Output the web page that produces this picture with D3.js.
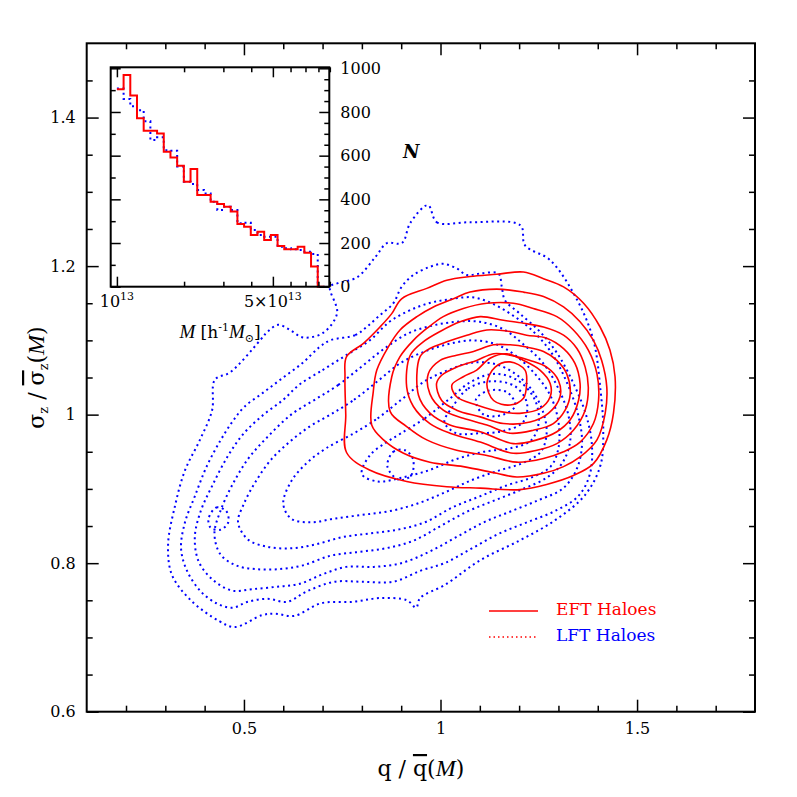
<!DOCTYPE html>
<html>
<head>
<meta charset="utf-8">
<script src="https://cdn.jsdelivr.net/npm/d3@7/dist/d3.min.js"></script>
<style>
  body { margin: 0; background: #fff; }
  text { font-family: "DejaVu Serif", serif; }
</style>
</head>
<body>
<div class="chart"></div>
<script>
// ---- main panel ticks
var xMajorTicks = [0.5, 1, 1.5];
var xMinorTicks = [0.2, 0.3, 0.4, 0.6, 0.7, 0.8, 0.9, 1.1, 1.2, 1.3, 1.4, 1.6, 1.7];
var yMajorTicks = [0.6, 0.8, 1, 1.2, 1.4];
var yMinorTicks = [0.65, 0.7, 0.75, 0.85, 0.9, 0.95, 1.05, 1.1, 1.15, 1.25, 1.3, 1.35, 1.45];

// ---- EFT haloes contours (q/qbar, sigma/sigmabar), outer to inner
var eftContours = [
  [[0.761,1.078],[0.757,1.051],[0.759,1.000],[0.761,0.949],[0.821,0.925],[0.914,0.910],[1.016,0.903],[1.101,0.901],[1.202,0.899],[1.270,0.906],[1.338,0.918],[1.389,0.934],[1.423,0.966],[1.440,1.002],[1.444,1.051],[1.431,1.087],[1.406,1.118],[1.364,1.150],[1.313,1.172],[1.262,1.183],[1.211,1.192],[1.143,1.189],[1.075,1.186],[1.016,1.181],[0.965,1.170],[0.901,1.156],[0.876,1.136],[0.846,1.118],[0.804,1.096]],
  [[0.825,0.986],[0.855,0.966],[0.906,0.948],[0.973,0.936],[1.058,0.930],[1.143,0.921],[1.194,0.916],[1.262,0.921],[1.313,0.930],[1.355,0.943],[1.398,0.966],[1.419,1.002],[1.423,1.037],[1.410,1.073],[1.389,1.100],[1.355,1.125],[1.313,1.145],[1.262,1.159],[1.211,1.165],[1.143,1.169],[1.075,1.165],[1.033,1.156],[0.982,1.145],[0.940,1.132],[0.897,1.114],[0.867,1.091],[0.838,1.060],[0.829,1.031]],
  [[0.872,1.004],[0.914,0.984],[0.965,0.966],[1.041,0.952],[1.118,0.945],[1.194,0.936],[1.262,0.941],[1.313,0.950],[1.355,0.963],[1.389,0.988],[1.402,1.019],[1.398,1.055],[1.376,1.087],[1.338,1.114],[1.296,1.132],[1.236,1.143],[1.185,1.150],[1.118,1.150],[1.058,1.143],[1.007,1.132],[0.965,1.116],[0.931,1.100],[0.897,1.078],[0.876,1.051]],
  [[0.914,1.037],[0.931,1.011],[0.973,0.988],[1.024,0.975],[1.101,0.963],[1.185,0.948],[1.245,0.952],[1.296,0.961],[1.338,0.979],[1.368,1.006],[1.376,1.037],[1.368,1.064],[1.347,1.089],[1.313,1.107],[1.262,1.118],[1.211,1.123],[1.160,1.127],[1.101,1.132],[1.050,1.125],[0.999,1.112],[0.956,1.098],[0.923,1.080]],
  [[0.944,1.026],[0.973,1.002],[1.024,0.986],[1.101,0.977],[1.185,0.961],[1.245,0.966],[1.296,0.977],[1.330,0.993],[1.351,1.019],[1.355,1.042],[1.342,1.069],[1.313,1.089],[1.270,1.103],[1.219,1.107],[1.177,1.112],[1.118,1.114],[1.067,1.107],[1.016,1.098],[0.973,1.089],[0.948,1.078]],
  [[0.969,1.055],[0.973,1.028],[1.007,1.006],[1.058,0.995],[1.118,0.986],[1.177,0.975],[1.236,0.979],[1.287,0.988],[1.317,1.006],[1.330,1.028],[1.321,1.055],[1.296,1.073],[1.262,1.085],[1.219,1.091],[1.177,1.094],[1.135,1.094],[1.084,1.085],[1.041,1.080],[0.999,1.073]],
  [[0.990,1.042],[1.003,1.019],[1.041,1.006],[1.101,0.997],[1.160,0.988],[1.228,0.990],[1.275,1.002],[1.304,1.024],[1.300,1.046],[1.270,1.064],[1.228,1.073],[1.177,1.080],[1.135,1.082],[1.092,1.073],[1.041,1.064],[1.003,1.053]],
  [[1.029,1.040],[1.041,1.024],[1.092,1.013],[1.152,1.004],[1.207,1.002],[1.253,1.008],[1.279,1.024],[1.279,1.042],[1.253,1.060],[1.211,1.073],[1.169,1.082],[1.126,1.076],[1.092,1.060],[1.058,1.051]],
  [[1.118,1.042],[1.135,1.019],[1.177,1.013],[1.211,1.022],[1.219,1.042],[1.215,1.060],[1.177,1.071],[1.139,1.064]]
];

// ---- LFT haloes contours
var lftContours = [
  [[0.968,1.282],[0.991,1.259],[1.075,1.259],[1.203,1.255],[1.215,1.228],[1.279,1.208],[1.348,1.154],[1.389,1.100],[1.407,1.033],[1.414,0.979],[1.407,0.932],[1.368,0.892],[1.292,0.858],[1.203,0.831],[1.101,0.804],[1.012,0.771],[0.948,0.753],[0.938,0.740],[0.915,0.750],[0.846,0.753],[0.778,0.748],[0.696,0.746],[0.628,0.729],[0.579,0.732],[0.546,0.730],[0.477,0.714],[0.437,0.722],[0.365,0.750],[0.317,0.784],[0.307,0.825],[0.325,0.878],[0.350,0.925],[0.388,0.966],[0.419,1.006],[0.426,1.047],[0.465,1.057],[0.541,1.100],[0.559,1.111],[0.587,1.121],[0.617,1.114],[0.650,1.104],[0.701,1.110],[0.737,1.137],[0.719,1.172],[0.739,1.177],[0.788,1.185],[0.834,1.212],[0.864,1.231],[0.902,1.231],[0.923,1.258]],
  [[0.719,1.100],[0.783,1.107],[0.812,1.118],[0.846,1.134],[0.880,1.150],[0.901,1.172],[0.931,1.188],[0.973,1.199],[1.007,1.203],[1.041,1.197],[1.067,1.188],[1.101,1.190],[1.147,1.190],[1.156,1.172],[1.164,1.154],[1.202,1.136],[1.256,1.110],[1.300,1.080],[1.340,1.040],[1.370,1.000],[1.385,0.960],[1.380,0.920],[1.350,0.890],[1.290,0.870],[1.220,0.855],[1.150,0.840],[1.080,0.820],[1.010,0.800],[0.950,0.790],[0.880,0.775],[0.800,0.775],[0.730,0.775],[0.660,0.762],[0.610,0.748],[0.560,0.752],[0.510,0.748],[0.470,0.740],[0.430,0.746],[0.390,0.762],[0.355,0.790],[0.340,0.820],[0.350,0.855],[0.375,0.890],[0.405,0.930],[0.440,0.965],[0.470,0.990],[0.500,1.010],[0.550,1.030],[0.600,1.050],[0.650,1.070],[0.690,1.090]],
  [[0.640,1.040],[0.700,1.060],[0.760,1.080],[0.820,1.100],[0.870,1.125],[0.920,1.140],[0.970,1.150],[1.020,1.155],[1.080,1.158],[1.130,1.150],[1.180,1.135],[1.230,1.115],[1.280,1.085],[1.320,1.045],[1.350,1.000],[1.360,0.960],[1.345,0.925],[1.310,0.900],[1.250,0.885],[1.180,0.870],[1.110,0.855],[1.040,0.835],[0.970,0.815],[0.900,0.800],[0.830,0.795],[0.760,0.795],[0.700,0.785],[0.640,0.772],[0.580,0.768],[0.520,0.765],[0.470,0.763],[0.420,0.778],[0.385,0.802],[0.375,0.835],[0.390,0.870],[0.420,0.905],[0.460,0.945],[0.500,0.975],[0.550,1.000],[0.600,1.020]],
  [[0.680,1.020],[0.740,1.040],[0.800,1.065],[0.860,1.090],[0.920,1.110],[0.980,1.120],[1.040,1.125],[1.100,1.125],[1.160,1.115],[1.210,1.095],[1.260,1.070],[1.300,1.035],[1.325,1.000],[1.330,0.965],[1.310,0.935],[1.270,0.915],[1.210,0.900],[1.140,0.885],[1.070,0.870],[1.000,0.850],[0.930,0.830],[0.860,0.820],[0.790,0.815],[0.720,0.810],[0.650,0.797],[0.590,0.792],[0.530,0.792],[0.480,0.797],[0.440,0.812],[0.425,0.840],[0.440,0.870],[0.470,0.905],[0.510,0.940],[0.560,0.970],[0.620,1.000]],
  [[0.720,1.000],[0.780,1.020],[0.840,1.045],[0.900,1.070],[0.960,1.085],[1.020,1.095],[1.080,1.100],[1.140,1.095],[1.190,1.080],[1.240,1.055],[1.280,1.025],[1.300,0.990],[1.300,0.955],[1.280,0.930],[1.230,0.915],[1.170,0.905],[1.100,0.890],[1.030,0.875],[0.960,0.855],[0.890,0.845],[0.820,0.840],[0.750,0.835],[0.680,0.825],[0.620,0.820],[0.560,0.822],[0.510,0.832],[0.485,0.855],[0.500,0.880],[0.530,0.910],[0.570,0.940],[0.620,0.965],[0.670,0.985]],
  [[0.780,0.975],[0.840,0.995],[0.900,1.020],[0.960,1.045],[1.020,1.060],[1.080,1.070],[1.140,1.068],[1.190,1.055],[1.230,1.035],[1.260,1.005],[1.270,0.975],[1.255,0.950],[1.210,0.935],[1.150,0.925],[1.080,0.912],[1.010,0.895],[0.940,0.880],[0.870,0.870],[0.800,0.865],[0.730,0.860],[0.670,0.855],[0.620,0.860],[0.600,0.880],[0.620,0.910],[0.660,0.935],[0.710,0.955]],
  [[0.900,0.975],[0.960,0.995],[1.020,1.020],[1.080,1.045],[1.140,1.055],[1.200,1.045],[1.240,1.020],[1.250,0.990],[1.230,0.965],[1.180,0.955],[1.110,0.950],[1.040,0.940],[0.970,0.925],[0.900,0.915],[0.840,0.910],[0.800,0.920],[0.820,0.945],[0.860,0.962]],
  [[1.030,1.010],[1.070,1.035],[1.130,1.045],[1.190,1.038],[1.220,1.015],[1.210,0.990],[1.160,0.978],[1.100,0.975],[1.040,0.975],[1.010,0.990]],
  [[1.090,1.020],[1.120,1.032],[1.170,1.030],[1.190,1.012],[1.160,1.000],[1.110,1.000]],
  [[0.865,0.930],[0.880,0.950],[0.910,0.952],[0.930,0.940],[0.925,0.918],[0.895,0.912]],
  [[0.410,0.860],[0.430,0.875],[0.455,0.870],[0.460,0.855],[0.440,0.845],[0.415,0.848]]
];

// ---- inset: mass function histograms (log10 M bin edges, counts)
var massBinEdges = [13.00,13.03,13.06,13.09,13.12,13.15,13.18,13.21,13.24,13.27,13.30,13.33,13.36,13.39,13.42,13.45,13.48,13.51,13.54,13.57,13.60,13.63,13.66,13.69,13.72,13.75,13.78,13.81,13.84,13.87,13.90,13.93];
var eftCounts = [904,969,875,771,714,714,702,618,592,554,481,539,420,420,389,379,366,344,287,275,237,252,214,237,186,171,171,183,156,92,0];
var lftCounts = [908,860,826,808,757,672,684,625,623,550,481,470,443,427,389,351,366,351,290,293,260,237,229,229,183,176,171,168,160,150,0];
var insetMassTicks = [1e13,2e13,3e13,4e13,5e13,6e13,7e13,8e13,9e13];
var insetMassMajor = [1e13, 5e13];
var insetCountMajor = [0,200,400,600,800,1000];
var insetCountLeftMinor = [100,300,500,700,900];
var insetCountRightMinor = [50,100,150,250,300,350,450,500,550,650,700,750,850,900,950];

// ------------------------------------------------------------------
var W = 797, H = 797;
var margin = {top: 43.3, right: 42, bottom: 85.3, left: 86.7},
    width = W - margin.left - margin.right,
    height = H - margin.top - margin.bottom;

var svg = d3.select(".chart").append("svg")
    .attr("width", W)
    .attr("height", H);

var g = svg.append("g")
    .attr("transform", "translate(" + margin.left + "," + margin.top + ")");

var x = d3.scaleLinear().domain([0.1, 1.8]).range([0, width]);
var y = d3.scaleLinear().domain([0.6, 1.5]).range([height, 0]);

// axes with inward ticks on all four sides
function addAxis(axisFn, scale, vals, size, labels, tr) {
    var a = axisFn(scale).tickValues(vals).tickSize(-size).tickPadding(11);
    if (labels) a.tickFormat(d3.format("")); else a.tickFormat("");
    var ax = g.append("g").attr("transform", tr).call(a);
    ax.select(".domain").remove();
    ax.selectAll("line").attr("stroke", "#000").attr("stroke-width", 1.5);
    ax.selectAll("text").style("font-size", "16px").attr("fill", "#000");
    return ax;
}
addAxis(d3.axisBottom, x, xMajorTicks, 12, true, "translate(0," + height + ")");
addAxis(d3.axisBottom, x, xMinorTicks, 6, false, "translate(0," + height + ")");
addAxis(d3.axisTop, x, xMajorTicks, 12, false, "translate(0,0)");
addAxis(d3.axisTop, x, xMinorTicks, 6, false, "translate(0,0)");
addAxis(d3.axisLeft, y, yMajorTicks, 12, true, "translate(0,0)");
addAxis(d3.axisLeft, y, yMinorTicks, 6, false, "translate(0,0)");
addAxis(d3.axisRight, y, yMajorTicks, 12, false, "translate(" + width + ",0)");
addAxis(d3.axisRight, y, yMinorTicks, 6, false, "translate(" + width + ",0)");

// contours
var contourLine = d3.line()
    .x(function (d) { return x(d[0]); })
    .y(function (d) { return y(d[1]); })
    .curve(d3.curveCatmullRomClosed.alpha(0.5));

g.selectAll(".lft")
    .data(lftContours)
    .enter().append("path")
    .attr("class", "lft")
    .attr("d", contourLine)
    .attr("fill", "none")
    .attr("stroke", "#0000ff")
    .attr("stroke-width", 2)
    .attr("stroke-dasharray", "2,3.5");

g.selectAll(".eft")
    .data(eftContours)
    .enter().append("path")
    .attr("class", "eft")
    .attr("d", contourLine)
    .attr("fill", "none")
    .attr("stroke", "#ff0000")
    .attr("stroke-width", 1.6)
    .attr("stroke-linejoin", "round");

// frame
g.append("rect")
    .attr("width", width)
    .attr("height", height)
    .attr("fill", "none")
    .attr("stroke", "#000")
    .attr("stroke-width", 2);

// legend
var legend = g.append("g").attr("transform", "translate(" + (489 - margin.left) + "," + (611 - margin.top) + ")");
legend.append("line").attr("x1", 0).attr("x2", 49).attr("y1", 0).attr("y2", 0)
    .attr("stroke", "#ff0000").attr("stroke-width", 1.5);
legend.append("line").attr("x1", 0).attr("x2", 49).attr("y1", 26).attr("y2", 26)
    .attr("stroke", "#ff0000").attr("stroke-width", 1.5).attr("stroke-dasharray", "1.5,3");
legend.append("text").attr("x", 67).attr("y", 4).text("EFT Haloes")
    .attr("fill", "#ff0000").style("font-size", "17px");
legend.append("text").attr("x", 67).attr("y", 30).text("LFT Haloes")
    .attr("fill", "#0000ff").style("font-size", "17px");

// axis titles
var xt = svg.append("text")
    .attr("x", margin.left + width / 2)
    .attr("y", 776)
    .attr("text-anchor", "middle")
    .style("font-size", "22px");
xt.append("tspan").text("q  /  ");
xt.append("tspan").text("q").style("text-decoration", "overline");
xt.append("tspan").text("(");
xt.append("tspan").text("M").style("font-style", "italic").style("font-family", "'Liberation Serif', serif").style("font-size", "24px");
xt.append("tspan").text(")");

var yt = svg.append("text")
    .attr("transform", "translate(44," + (margin.top + height / 2) + ") rotate(-90)")
    .attr("text-anchor", "middle")
    .style("font-size", "22px");
yt.append("tspan").text("σ");
yt.append("tspan").text("z").attr("dy", 4).style("font-size", "13px");
yt.append("tspan").text("  /  ").attr("dy", -4);
yt.append("tspan").text("σ").style("text-decoration", "overline");
yt.append("tspan").text("z").attr("dy", 4).style("font-size", "13px");
yt.append("tspan").text("(").attr("dy", -4);
yt.append("tspan").text("M").style("font-style", "italic").style("font-family", "'Liberation Serif', serif").style("font-size", "24px");
yt.append("tspan").text(")");

// ------------------------------------------------------------------
// inset
var inset = {left: 110.7, right: 329.3, top: 67.3, bottom: 286.7};
var ix = d3.scaleLog().domain([9.38e12, 8.95e13]).range([inset.left, inset.right]);
var iy = d3.scaleLinear().domain([0, 1000]).range([inset.bottom, 68.3]);

svg.append("rect")
    .attr("x", inset.left).attr("y", inset.top)
    .attr("width", inset.right - inset.left).attr("height", inset.bottom - inset.top)
    .attr("fill", "#fff");

var stepLine = d3.line()
    .x(function (d) { return ix(Math.pow(10, d[0])); })
    .y(function (d) { return iy(d[1]); })
    .curve(d3.curveStepAfter);

function histPoints(counts) {
    var pts = counts.map(function (c, i) { return [massBinEdges[i], c]; });
    pts.push([massBinEdges[massBinEdges.length - 1], 0]);
    return pts;
}

svg.append("path")
    .attr("d", stepLine(histPoints(lftCounts)))
    .attr("fill", "none")
    .attr("stroke", "#0000ff")
    .attr("stroke-width", 2)
    .attr("stroke-dasharray", "2,3.5");

svg.append("path")
    .attr("d", stepLine(histPoints(eftCounts)))
    .attr("fill", "none")
    .attr("stroke", "#ff0000")
    .attr("stroke-width", 2);

function insetAxis(axisFn, scale, vals, size, tr, labels) {
    var a = axisFn(scale).tickValues(vals).tickSize(-size).tickPadding(11);
    if (labels) a.tickFormat(d3.format("d")); else a.tickFormat("");
    var ax = svg.append("g").attr("transform", tr).call(a);
    ax.select(".domain").remove();
    ax.selectAll("line").attr("stroke", "#000").attr("stroke-width", 1.5);
    ax.selectAll("text").style("font-size", "16px").attr("fill", "#000");
    return ax;
}
var minorMass = insetMassTicks.filter(function (d) { return insetMassMajor.indexOf(d) < 0; });
insetAxis(d3.axisBottom, ix, insetMassMajor, 10, "translate(0," + inset.bottom + ")", false);
insetAxis(d3.axisBottom, ix, minorMass, 5, "translate(0," + inset.bottom + ")", false);
insetAxis(d3.axisTop, ix, insetMassMajor, 10, "translate(0," + inset.top + ")", false);
insetAxis(d3.axisTop, ix, minorMass, 5, "translate(0," + inset.top + ")", false);
insetAxis(d3.axisLeft, iy, insetCountMajor, 10, "translate(" + inset.left + ",0)", false);
insetAxis(d3.axisLeft, iy, insetCountLeftMinor, 5, "translate(" + inset.left + ",0)", false);
insetAxis(d3.axisRight, iy, insetCountMajor, 10, "translate(" + inset.right + ",0)", true);
insetAxis(d3.axisRight, iy, insetCountRightMinor, 5, "translate(" + inset.right + ",0)", false);

svg.append("rect")
    .attr("x", inset.left).attr("y", inset.top)
    .attr("width", inset.right - inset.left).attr("height", inset.bottom - inset.top)
    .attr("fill", "none")
    .attr("stroke", "#000")
    .attr("stroke-width", 2);

// inset mass labels with exponents
var massLabels = [{v: 1e13, pre: "10"}, {v: 5e13, pre: "5×10"}];
massLabels.forEach(function (m) {
    var t = svg.append("text")
        .attr("x", ix(m.v))
        .attr("y", inset.bottom + 20)
        .attr("text-anchor", "middle")
        .style("font-size", "16px");
    t.append("tspan").text(m.pre);
    t.append("tspan").text("13").attr("dy", -7).style("font-size", "11px");
});

var mt = svg.append("text")
    .attr("x", (inset.left + inset.right) / 2)
    .attr("y", 338)
    .attr("text-anchor", "middle")
    .style("font-size", "17px");
mt.append("tspan").text("M").style("font-style", "italic").style("font-family", "'Liberation Serif', serif").style("font-size", "19px");
mt.append("tspan").text("  [h");
mt.append("tspan").text("-1").attr("dy", -7).style("font-size", "11px");
mt.append("tspan").text("M").attr("dy", 7).style("font-style", "italic").style("font-family", "'Liberation Serif', serif").style("font-size", "19px");
mt.append("tspan").text("⊙").attr("dy", 4).style("font-size", "11px");
mt.append("tspan").text("]").attr("dy", -4);

svg.append("text")
    .attr("x", 403)
    .attr("y", 158)
    .text("N")
    .style("font-family", "'DejaVu Serif', serif")
    .style("font-style", "italic")
    .style("font-weight", "bold")
    .style("font-size", "18px");
</script>
</body>
</html>
